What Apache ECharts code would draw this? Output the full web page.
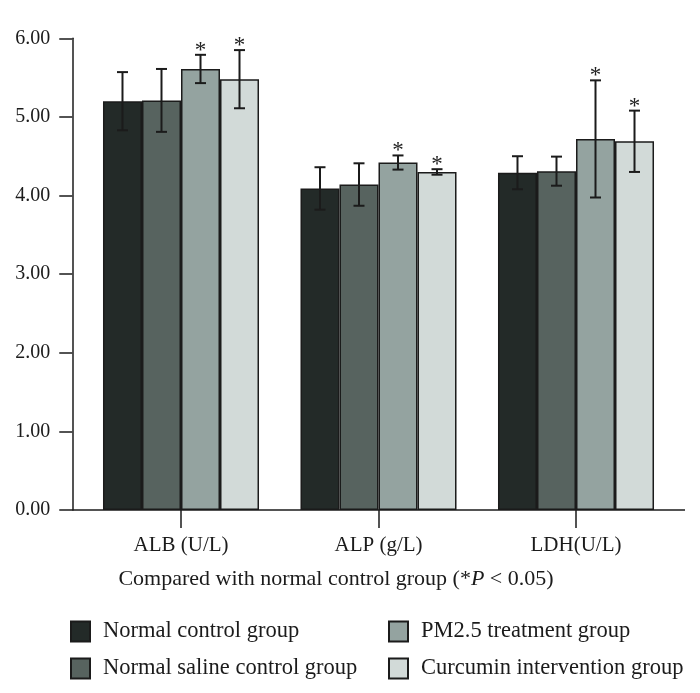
<!DOCTYPE html>
<html><head><meta charset="utf-8">
<script src="https://cdn.jsdelivr.net/npm/echarts@6/dist/echarts.min.js"></script>
</head><body style="margin:0;background:#fff">
<div id="c" style="width:700px;height:693px"></div>
<script>
const categories = ['ALB (U/L)', 'ALP (g/L)', 'LDH(U/L)'];
const seriesNames = ['Normal control group', 'Normal saline control group', 'PM2.5 treatment group', 'Curcumin intervention group'];
const normalControl = [5.20, 4.09, 4.29];
const normalControlErr = [0.37, 0.27, 0.21];
const salineControl = [5.21, 4.14, 4.31];
const salineControlErr = [0.40, 0.27, 0.185];
const pm25Treatment = [5.61, 4.42, 4.72];
const pm25TreatmentErr = [0.18, 0.09, 0.745];
const curcuminIntervention = [5.48, 4.30, 4.69];
const curcuminInterventionErr = [0.37, 0.035, 0.39];
const significant = [[0,0,0],[0,0,0],[1,1,1],[1,1,1]];
const yTicks = [0, 1, 2, 3, 4, 5, 6];

const values = [normalControl, salineControl, pm25Treatment, curcuminIntervention];
const errors = [normalControlErr, salineControlErr, pm25TreatmentErr, curcuminInterventionErr];
const colors = ['#232a28', '#57635f', '#94a3a0', '#d2dad8'];
const FONT = 'Liberation Serif';
const GAP = 0.21;

const chart = echarts.init(document.getElementById('c'));
const barSeries = values.map((v, i) => ({
  name: seriesNames[i], type: 'bar', data: v, barGap: '0%', barCategoryGap: (GAP*100)+'%',
  itemStyle: { color: colors[i], borderColor: '#1b1b1b', borderWidth: 1.5 },
  z: 2
}));
const errSeries = values.map((v, i) => ({
  name: 'err' + i, type: 'custom', z: 5,
  data: v.map((val, k) => [k, val, errors[i][k], significant[i][k]]),
  encode: { x: 0, y: 1 },
  renderItem: function (params, api) {
    const k = api.value(0), val = api.value(1), e = api.value(2), sig = api.value(3);
    const c = api.coord([k, val]);
    const band = api.size([1, 0])[0];
    const bw = band * (1 - GAP) / 4;
    const x = c[0] + (i - 1.5) * bw;
    const yt = api.coord([k, val + e])[1];
    const yb = api.coord([k, val - e])[1];
    const cap = 5.5;
    const st = { stroke: '#1b1b1b', lineWidth: 2 };
    const children = [
      { type: 'line', shape: { x1: x, y1: yt, x2: x, y2: yb }, style: st },
      { type: 'line', shape: { x1: x - cap, y1: yt, x2: x + cap, y2: yt }, style: st },
      { type: 'line', shape: { x1: x - cap, y1: yb, x2: x + cap, y2: yb }, style: st }
    ];
    if (sig) children.push({ type: 'text', style: { text: '*', x: x, y: yt - 4, align: 'center', verticalAlign: 'middle', font: '23px "' + FONT + '"', fill: '#222' } });
    return { type: 'group', children: children };
  }
}));

function legendCfg(names, left) {
  return {
    orient: 'vertical', left: left, top: 620, padding: 0, itemGap: 14, itemWidth: 19, itemHeight: 20,
    icon: 'rect',
    data: names, selectedMode: false,
    textStyle: { fontFamily: FONT, fontSize: 22.5, color: '#1b1b1b', padding: [0, 0, 0, 8] }
  };
}

chart.setOption({
  animation: false,
  backgroundColor: '#fff',
  grid: { left: 82.25, right: 25.25, top: 38.3, bottom: 183 },
  xAxis: {
    type: 'category', data: categories,
    axisLine: { show: false },
    axisTick: { show: true, alignWithLabel: true, length: 18, lineStyle: { color: '#1b1b1b', width: 1.5 } },
    axisLabel: { margin: 25, fontFamily: FONT, fontSize: 21, color: '#1b1b1b' }
  },
  yAxis: {
    type: 'value', min: 0, max: 6, interval: 1, offset: 10,
    splitLine: { show: false },
    axisLine: { show: true, lineStyle: { color: '#1b1b1b', width: 1.5 } },
    axisTick: { show: true, length: 13, lineStyle: { color: '#1b1b1b', width: 1.5 } },
    axisLabel: { margin: 22, fontFamily: FONT, fontSize: 20, color: '#1b1b1b', formatter: v => v.toFixed(2) }
  },
  legend: [legendCfg([seriesNames[0], seriesNames[1]], 70), legendCfg([seriesNames[2], seriesNames[3]], 388)],
  series: barSeries.concat(errSeries)
});

const y0 = chart.convertToPixel({ yAxisIndex: 0 }, 0);
chart.setOption({
  graphic: [
    { type: 'line', shape: { x1: 72, y1: y0, x2: 685, y2: y0 }, style: { stroke: '#1b1b1b', lineWidth: 1.5 }, z: 10 },
    { type: 'text', x: 336, y: 579, style: {
      text: '{a|Compared with normal control group (*}{i|P}{a| < 0.05)}',
      align: 'center', verticalAlign: 'middle',
      rich: { a: { fontFamily: FONT, fontSize: 22, fill: '#1b1b1b' }, i: { fontFamily: FONT, fontSize: 22, fontStyle: 'italic', fill: '#1b1b1b' } }
    } }
  ]
});
</script>
</body></html>
